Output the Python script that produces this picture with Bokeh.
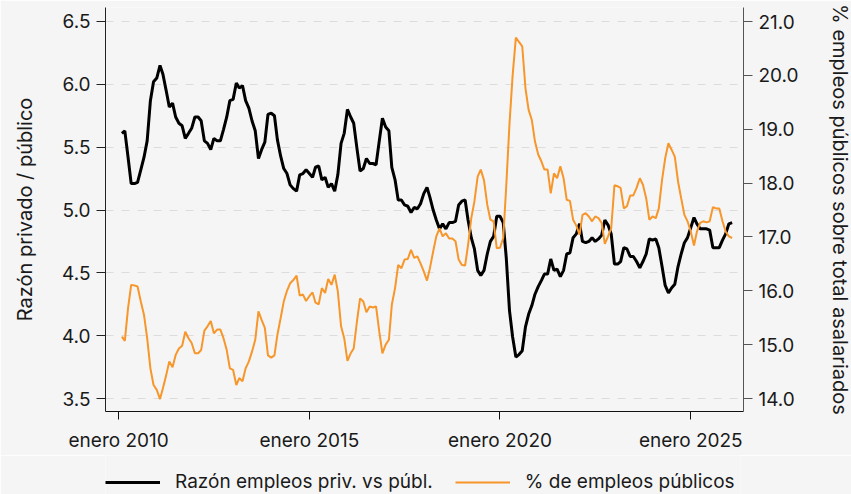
import pandas as pd
from bokeh.plotting import figure
from bokeh.layouts import column
from bokeh.models import (Range1d, LinearAxis, FixedTicker, NumeralTickFormatter,
                          Legend, LegendItem, ColumnDataSource)
from bokeh.embed import file_html
from bokeh.resources import INLINE

# ---------------- data (monthly, from Feb 2010) ----------------
first_month = "2010-02-01"

ratio_priv_pub = [
    5.61, 5.63, 5.42, 5.21, 5.21, 5.22, 5.32, 5.42, 5.55, 5.87, 6.02, 6.05,
    6.15, 6.08, 5.95, 5.82, 5.85, 5.74, 5.69, 5.67, 5.57, 5.61, 5.65, 5.74,
    5.74, 5.71, 5.55, 5.53, 5.48, 5.57, 5.55, 5.55, 5.64, 5.74, 5.87, 5.88,
    6.01, 5.97, 5.99, 5.87, 5.81, 5.71, 5.63, 5.41, 5.48, 5.54, 5.76, 5.77,
    5.75, 5.56, 5.43, 5.33, 5.29, 5.20, 5.17, 5.15, 5.28, 5.29, 5.32, 5.29,
    5.26, 5.34, 5.35, 5.24, 5.26, 5.18, 5.21, 5.15, 5.28, 5.53, 5.61, 5.80,
    5.74, 5.69, 5.49, 5.31, 5.33, 5.41, 5.37, 5.37, 5.36, 5.55, 5.73, 5.66,
    5.63, 5.34, 5.24, 5.08, 5.08, 5.04, 5.03, 4.98, 5.02, 5.01, 5.05, 5.13,
    5.18, 5.10, 5.00, 4.92, 4.85, 4.89, 4.85, 4.90, 4.90, 4.91, 5.04, 5.07,
    5.08, 4.92, 4.78, 4.69, 4.52, 4.48, 4.52, 4.65, 4.75, 4.79, 4.95, 4.95,
    4.90, 4.62, 4.20, 3.99, 3.83, 3.85, 3.88, 4.07, 4.17, 4.24, 4.33, 4.39,
    4.44, 4.49, 4.49, 4.61, 4.52, 4.53, 4.47, 4.52, 4.65, 4.66, 4.78, 4.81,
    4.89, 4.75, 4.74, 4.75, 4.78, 4.75, 4.77, 4.80, 4.92, 4.88, 4.81, 4.57,
    4.57, 4.59, 4.70, 4.69, 4.63, 4.63, 4.59, 4.54, 4.59, 4.65, 4.77, 4.76,
    4.77, 4.70, 4.55, 4.40, 4.34, 4.38, 4.41, 4.55, 4.65, 4.74, 4.78, 4.86,
    4.94, 4.89, 4.85, 4.85, 4.85, 4.84, 4.70, 4.70, 4.70, 4.76, 4.81, 4.89,
    4.90,
]

pct_public = [
    15.15, 15.07, 15.68, 16.11, 16.10, 16.08, 15.80, 15.55, 15.12, 14.56, 14.25, 14.16,
    13.99, 14.19, 14.43, 14.69, 14.58, 14.81, 14.93, 14.98, 15.24, 15.12, 15.03, 14.84,
    14.84, 14.90, 15.26, 15.34, 15.44, 15.21, 15.28, 15.28, 15.12, 14.90, 14.56, 14.53,
    14.25, 14.38, 14.32, 14.56, 14.69, 14.87, 15.09, 15.62, 15.46, 15.31, 14.80, 14.76,
    14.80, 15.18, 15.49, 15.80, 16.00, 16.14, 16.20, 16.28, 15.91, 15.93, 15.81, 15.90,
    15.97, 15.78, 15.75, 16.05, 15.96, 16.22, 16.11, 16.30, 15.99, 15.34, 15.12, 14.70,
    14.84, 14.93, 15.43, 15.86, 15.80, 15.60, 15.71, 15.69, 15.71, 15.24, 14.84, 15.00,
    15.09, 15.74, 16.05, 16.48, 16.42, 16.58, 16.59, 16.76, 16.61, 16.64, 16.51, 16.36,
    16.19, 16.42, 16.73, 17.01, 17.16, 17.01, 17.07, 16.97, 16.97, 16.92, 16.58, 16.48,
    16.47, 16.85, 17.35, 17.66, 18.12, 18.25, 18.05, 17.60, 17.32, 17.29, 16.79, 16.80,
    16.98, 17.95, 19.10, 20.00, 20.70, 20.62, 20.54, 19.76, 19.36, 19.17, 18.77, 18.53,
    18.40, 18.25, 18.25, 17.81, 18.18, 18.09, 18.31, 18.09, 17.69, 17.67, 17.32, 17.21,
    17.04, 17.41, 17.44, 17.38, 17.29, 17.38, 17.35, 17.26, 16.87, 17.01, 17.16, 17.96,
    17.94, 17.91, 17.53, 17.57, 17.77, 17.77, 17.91, 18.09, 17.97, 17.72, 17.32, 17.38,
    17.35, 17.53, 18.06, 18.46, 18.74, 18.62, 18.49, 18.03, 17.72, 17.41, 17.29, 17.10,
    16.84, 17.10, 17.26, 17.29, 17.27, 17.29, 17.55, 17.53, 17.53, 17.29, 17.10, 17.01,
    16.98,
]

xtick_dates = ["2010-01-01", "2015-01-01", "2020-01-01", "2025-01-01"]
xtick_labels = ["enero 2010", "enero 2015", "enero 2020", "enero 2025"]
left_ticks = [3.5, 4.0, 4.5, 5.0, 5.5, 6.0, 6.5]
right_ticks = [14, 15, 16, 17, 18, 19, 20, 21]

series_names = ["Razón empleos priv. vs públ.", "% de empleos públicos"]
left_label = "Razón privado / público"
right_label = "% empleos públicos sobre total asalariados"

# ---------------- styling ----------------
FONT = "Inter"
FS = "19px"
FS_LAB = "20px"
FS_LEG = "19px"
BG = "#f5f5f5"
TXT = "#1a1a1a"
ORANGE = "#f7962a"
SERIES_COLORS = ["black", ORANGE]
SERIES_WIDTHS = [3, 2]

dates = pd.date_range(first_month, periods=len(ratio_priv_pub), freq="MS")
src = ColumnDataSource(dict(date=dates, ratio=ratio_priv_pub, pct=pct_public))

p = figure(frame_width=638, frame_height=404, x_axis_type="datetime",
           output_backend="svg", toolbar_location=None,
           x_range=Range1d(pd.Timestamp("2009-08-28"), pd.Timestamp("2026-05-21")),
           y_range=Range1d(3.397, 6.611),
           min_border_left=105, min_border_right=108, min_border_top=7, min_border_bottom=44,
           background_fill_color=BG, border_fill_color=BG)
p.outline_line_color = None

p.extra_y_ranges = {"pct": Range1d(13.759, 21.26)}

p.line("date", "ratio", source=src, line_color=SERIES_COLORS[0], line_width=SERIES_WIDTHS[0])
p.line("date", "pct", source=src, line_color=SERIES_COLORS[1], line_width=SERIES_WIDTHS[1],
       y_range_name="pct")

# x axis
xaxis = p.xaxis[0]
tick_ms = [pd.Timestamp(d).value / 1e6 for d in xtick_dates]
xaxis.ticker = FixedTicker(ticks=tick_ms)
xaxis.major_label_overrides = {t: lab for t, lab in zip(tick_ms, xtick_labels)}
xaxis.axis_line_color = "#111111"
xaxis.major_tick_line_color = "#111111"
xaxis.major_tick_out = 8
xaxis.major_tick_in = 0
xaxis.minor_tick_line_color = None
xaxis.major_label_standoff = 9
xaxis.major_label_text_font = FONT
xaxis.major_label_text_font_size = FS
xaxis.major_label_text_color = TXT

# left axis
yaxis = p.yaxis[0]
yaxis.ticker = FixedTicker(ticks=left_ticks)
yaxis.formatter = NumeralTickFormatter(format="0.0")
yaxis.axis_line_color = "#222222"
yaxis.major_tick_line_color = "#222222"
yaxis.major_tick_out = 9
yaxis.major_tick_in = 0
yaxis.minor_tick_line_color = None
yaxis.major_label_standoff = 6
yaxis.major_label_text_font = FONT
yaxis.major_label_text_font_size = FS
yaxis.major_label_text_color = TXT
yaxis.axis_label = left_label
yaxis.axis_label_standoff = 22
yaxis.axis_label_text_font = FONT
yaxis.axis_label_text_font_size = FS_LAB
yaxis.axis_label_text_font_style = "normal"
yaxis.axis_label_text_color = TXT

# right axis
raxis = LinearAxis(y_range_name="pct", ticker=FixedTicker(ticks=right_ticks),
                   formatter=NumeralTickFormatter(format="0.0"))
raxis.axis_line_color = "#555555"
raxis.major_tick_line_color = "#555555"
raxis.major_tick_out = 9
raxis.major_tick_in = 0
raxis.minor_tick_line_color = None
raxis.major_label_standoff = 6
raxis.major_label_text_font = FONT
raxis.major_label_text_font_size = FS
raxis.major_label_text_color = TXT
raxis.axis_label = right_label
raxis.axis_label_standoff = 26
raxis.axis_label_text_font = FONT
raxis.axis_label_text_font_size = FS_LAB
raxis.axis_label_text_font_style = "normal"
raxis.axis_label_text_color = TXT
p.add_layout(raxis, "right")

# grid
p.xgrid.visible = False
p.ygrid.grid_line_color = "#dcdcdc"
p.ygrid.grid_line_dash = "8 8"
p.ygrid.grid_line_width = 1
p.ygrid.ticker = FixedTicker(ticks=left_ticks)

# ---------------- legend strip below the chart ----------------
# (same series drawn again, but its ranges keep the lines out of view: only the key shows)
lg = figure(width=851, height=39, output_backend="svg", toolbar_location=None,
            x_range=Range1d(0, 1), y_range=Range1d(0, 1),
            x_axis_type=None, y_axis_type=None, min_border=0,
            background_fill_color=BG, border_fill_color=BG)
lg.outline_line_color = None
lg.xgrid.visible = False
lg.ygrid.visible = False
key_renderers = [
    lg.line("date", "ratio", source=src, line_color=SERIES_COLORS[0], line_width=SERIES_WIDTHS[0]),
    lg.line("date", "pct", source=src, line_color=SERIES_COLORS[1], line_width=SERIES_WIDTHS[1]),
]
legend = Legend(items=[LegendItem(label=n, renderers=[r])
                       for n, r in zip(series_names, key_renderers)],
                orientation="horizontal", location=(0, 1),
                glyph_width=55, glyph_height=20, label_standoff=15, spacing=22,
                padding=0, margin=0,
                label_text_font=FONT, label_text_font_size=FS_LEG, label_text_color=TXT,
                border_line_color=None, background_fill_alpha=0)
lg.add_layout(legend)

layout = column(p, lg, spacing=0)

open("out.html", "w").write(file_html(layout, INLINE))
